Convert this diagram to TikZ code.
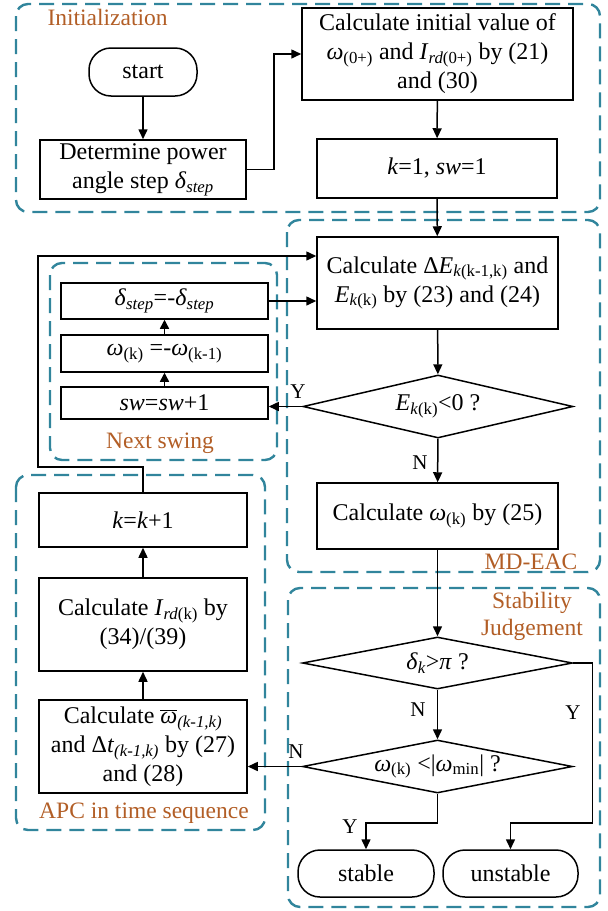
\documentclass[tikz,border=0pt]{standalone}
\usepackage{fontspec}
\setmainfont{Liberation Serif}
\usetikzlibrary{arrows.meta,shapes.geometric}
\definecolor{grp}{RGB}{49,133,156}
\definecolor{lab}{RGB}{178,94,38}
\newcommand\sbs[1]{\textsubscript{#1}}
\newcommand\ii[1]{\textit{#1}}
\newcommand\wbar{\ensuremath{\overline{\mbox{\itshape ω}}}}
\begin{document}
\begin{tikzpicture}[x=1pt,y=-1pt,
  every node/.style={font=\fontsize{24}{29}\selectfont},
  box/.style={draw,line width=1.5pt,align=center,inner sep=0pt},
  term/.style={box,rounded corners=22pt},
  dia/.style={draw,line width=1.5pt,diamond,inner sep=0pt,align=center},
  arr/.style={line width=1.5pt,-{Triangle[length=10pt,width=9pt]}},
  arrs/.style={line width=1.5pt,-{Triangle[length=9pt,width=9pt]}},
  grpbox/.style={draw=grp,line width=2.4pt,dash pattern=on 15pt off 8pt,rounded corners=12pt},
  glab/.style={text=lab,font=\fontsize{23.5}{27}\selectfont,align=center},
  yn/.style={font=\fontsize{21}{25}\selectfont}]
\useasboundingbox (0,0) rectangle (608,911);
% groups
\draw[grpbox] (16,4) rectangle (600,212);
\draw[grpbox] (287,220) rectangle (600,572);
\draw[grpbox] (288,588) rectangle (600,907);
\draw[grpbox] (16,475) rectangle (265,830);
\draw[grpbox] (50,263) rectangle (277,460);
\node[glab,anchor=west] (tInit) at (44,17) {Initialization};
\node[glab] (tMD) at (531,562) {MD-EAC};
\node[glab] (tSJ) at (532,616) {Stability\\Judgement};
\node[glab] (tNS) at (160,443) {Next swing};
\node[glab] (tAPC) at (144,813) {APC in time sequence};
% nodes
\node[term,minimum width=108,minimum height=48] (start) at (143,72) {start};
\node[box,minimum width=206,minimum height=59] (det) at (143,169.5) {Determine power\\angle step \ii{δ}\sbs{\ii{step}}};
\node[box,minimum width=271,minimum height=92] (init) at (437.5,54) {Calculate initial value of\\\ii{ω}\sbs{(0+)} and \ii{I}\sbs{\ii{rd}(0+)} by (21)\\and (30)};
\node[box,minimum width=240,minimum height=59] (k1) at (437,168.5) {\ii{k}=1, \ii{sw}=1};
\node[box,minimum width=241,minimum height=92] (dE) at (437.5,283) {Calculate Δ\ii{E}\sbs{\ii{k}(k-1,k)} and\\\ii{E}\sbs{\ii{k}(k)} by (23) and (24)};
\node[dia,aspect=4.29,minimum width=270,minimum height=63] (d1) at (438,406.5) {\ii{E}\sbs{\ii{k}(k)}<0 ?};
\node[box,minimum width=241,minimum height=66] (cw) at (437.5,516) {Calculate \ii{ω}\sbs{(k)} by (25)};
\node[dia,aspect=5.19,minimum width=270,minimum height=52] (d2) at (437.5,663) {\ii{δ}\sbs{\ii{k}}>\ii{π} ?};
\node[dia,aspect=5.09,minimum width=270,minimum height=53] (d3) at (437.5,766.5) {\ii{ω}\sbs{(k)} <|\ii{ω}\sbs{min}| ?};
\node[term,minimum width=136,minimum height=47] (stable) at (366,873.5) {stable};
\node[term,minimum width=135,minimum height=47] (unstable) at (510.5,873.5) {unstable};
\node[box,minimum width=208,minimum height=54] (kk) at (143,520) {\ii{k}=\ii{k}+1};
\node[box,minimum width=208,minimum height=93] (ird) at (143,624.5) {Calculate \ii{I}\sbs{\ii{rd}(k)} by\\(34)/(39)};
\node[box,minimum width=208,minimum height=93] (omb) at (143,746.5) {Calculate \wbar\sbs{\ii{(k-1,k)}}\\and Δ\ii{t}\sbs{\ii{(k-1,k)}} by (27)\\and (28)};
\node[box,minimum width=207,minimum height=36] (dst) at (164.5,301) {\ii{δ}\sbs{\ii{step}}=-\ii{δ}\sbs{\ii{step}}};
\node[box,minimum width=207,minimum height=37] (om) at (164.5,353.5) {\ii{ω}\sbs{(k)} =-\ii{ω}\sbs{(k-1)}};
\node[box,minimum width=207,minimum height=32] (sw) at (164.5,403) {\ii{sw}=\ii{sw}+1};
% labels
\node[yn] (n1) at (420,463) {N};
\node[yn] (y1) at (298,392) {Y};
\node[yn] (n2) at (418,710) {N};
\node[yn] (y2) at (573,713) {Y};
\node[yn] (n3) at (296,752) {N};
\node[yn] (y3) at (350,827) {Y};
% connectors
\coordinate (yj) at (0,823);
\coordinate (lp) at (38,467);
\draw[arr] (start) -- (det);
\draw[arr] (det.east) -- ++(27,0) |- (init.west);
\draw[arr] (init) -- (k1);
\draw[arr] (k1) -- (dE);
\draw[arr] (dE) -- (d1);
\draw[arr] (d1) -- (cw);
\draw[arr] (cw) -- (d2);
\draw[arr] (d2) -- (d3);
\draw[arr] (d2.east) -- ++(19,0) |- (unstable.north |- yj) -- (unstable.north);
\draw[arr] (d3.south) -- (d3.south |- yj) -| (stable.north);
\draw[arr] (d3.west) -- (d3.west -| omb.east);
\draw[arr] (omb) -- (ird);
\draw[arr] (ird) -- (kk);
\draw[arr] (kk.north) |- (lp) |- ([yshift=27pt]dE.west);
\draw[arr] (dst.east) -- (dst.east -| dE.west);
\draw[arr] (d1.west) -- (d1.west -| sw.east);
\draw[arrs] (sw) -- (om);
\draw[arrs] (om) -- (dst);
\end{tikzpicture}
\end{document}
